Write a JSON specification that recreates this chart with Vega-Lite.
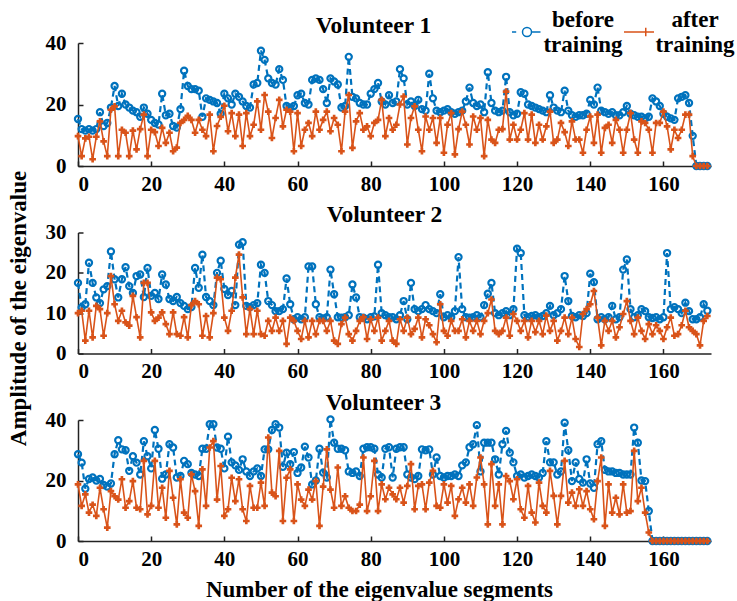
{
"$schema": "https://vega.github.io/schema/vega-lite/v6.json",
"padding": {"left": 7, "top": 13, "right": 5, "bottom": 5},
"spacing": 66.5,
"bounds": "flush",
"config": {
 "font": "Liberation Serif",
 "view": {"stroke": null},
 "axis": {"labelFont": "Liberation Serif", "labelFontSize": 21, "labelFontWeight": "bold", "labelColor": "black",
  "titleFont": "Liberation Serif", "titleFontSize": 23, "titleFontWeight": "bold", "titleColor": "black",
  "domainColor": "#222", "domainWidth": 1.5, "tickColor": "#222", "tickWidth": 1.5, "tickSize": -5, "grid": false},
 "axisX": {"labelPadding": 12, "titlePadding": 9},
 "axisY": {"labelPadding": 17, "titlePadding": 15},
 "title": {"font": "Liberation Serif", "fontSize": 23.5, "fontWeight": "bold", "color": "black", "offset": -5}
},
"resolve": {"scale": {"color": "shared"}, "legend": {"color": "shared"}},
"datasets": {
 "v1": [
{"x":0,"before":15.3,"after":9.7},{"x":1,"before":12,"after":3.2},{"x":2,"before":11.5,"after":9},{"x":3,"before":12,"after":9.5},{"x":4,"before":11.5,"after":2.2},{"x":5,"before":12,"after":9.5},{"x":6,"before":17.5,"after":14.5},{"x":7,"before":13,"after":8},{"x":8,"before":14,"after":3.2},{"x":9,"before":19,"after":18.3},
{"x":10,"before":26,"after":19.4},{"x":11,"before":19.5,"after":3.2},{"x":12,"before":23.5,"after":11.8},{"x":13,"before":20,"after":10.8},{"x":14,"before":19,"after":3.2},{"x":15,"before":18,"after":11.5},{"x":16,"before":17.5,"after":5.4},{"x":17,"before":16,"after":12},{"x":18,"before":19,"after":16.7},{"x":19,"before":17,"after":3.2},
{"x":20,"before":15,"after":11.8},{"x":21,"before":14,"after":11},{"x":22,"before":13.5,"after":6.5},{"x":23,"before":23.5,"after":12.4},{"x":24,"before":16.5,"after":7.5},{"x":25,"before":17,"after":10.8},{"x":26,"before":13,"after":4.8},{"x":27,"before":12.5,"after":6},{"x":28,"before":18.5,"after":14},{"x":29,"before":31,"after":15},
{"x":30,"before":26,"after":16.3},{"x":31,"before":25,"after":15},{"x":32,"before":25,"after":10.8},{"x":33,"before":24.5,"after":15},{"x":34,"before":16,"after":11.8},{"x":35,"before":22,"after":9.7},{"x":36,"before":21.5,"after":16.7},{"x":37,"before":21,"after":4.8},{"x":38,"before":20.5,"after":13},{"x":39,"before":17,"after":16},
{"x":40,"before":23.5,"after":19.6},{"x":41,"before":22,"after":11.3},{"x":42,"before":20,"after":17.2},{"x":43,"before":23.5,"after":9.7},{"x":44,"before":22.5,"after":16.7},{"x":45,"before":21,"after":6.5},{"x":46,"before":19.5,"after":17.2},{"x":47,"before":19,"after":9.7},{"x":48,"before":26.5,"after":13.4},{"x":49,"before":27,"after":21},
{"x":50,"before":37.5,"after":11.8},{"x":51,"before":34.5,"after":23.1},{"x":52,"before":28.5,"after":17.7},{"x":53,"before":27,"after":9.1},{"x":54,"before":26.5,"after":15.6},{"x":55,"before":31.5,"after":21.5},{"x":56,"before":28,"after":12.9},{"x":57,"before":19.5,"after":18.3},{"x":58,"before":19,"after":17.7},{"x":59,"before":19.5,"after":4.8},
{"x":60,"before":23,"after":17.2},{"x":61,"before":23.5,"after":6.5},{"x":62,"before":20.5,"after":11.8},{"x":63,"before":20,"after":14},{"x":64,"before":28,"after":9.7},{"x":65,"before":28.5,"after":17.7},{"x":66,"before":28,"after":11.8},{"x":67,"before":25,"after":15},{"x":68,"before":20.5,"after":17.7},{"x":69,"before":28.5,"after":11.3},
{"x":70,"before":27.5,"after":15.6},{"x":71,"before":26.5,"after":13.4},{"x":72,"before":19,"after":4.8},{"x":73,"before":19.5,"after":17.7},{"x":74,"before":35.5,"after":23.1},{"x":75,"before":22.5,"after":5.9},{"x":76,"before":22,"after":14.5},{"x":77,"before":20.5,"after":17.2},{"x":78,"before":20,"after":11.8},{"x":79,"before":20,"after":12.9},
{"x":80,"before":23.5,"after":9.7},{"x":81,"before":25,"after":14},{"x":82,"before":27,"after":15},{"x":83,"before":21,"after":21.5},{"x":84,"before":20,"after":9.7},{"x":85,"before":23,"after":15.6},{"x":86,"before":20.5,"after":11.8},{"x":87,"before":21,"after":13.4},{"x":88,"before":31.5,"after":20},{"x":89,"before":28.5,"after":22.6},
{"x":90,"before":20,"after":7},{"x":91,"before":21,"after":15.6},{"x":92,"before":19.5,"after":19.4},{"x":93,"before":21.5,"after":11.8},{"x":94,"before":18.5,"after":4.8},{"x":95,"before":18,"after":16.1},{"x":96,"before":30,"after":11.8},{"x":97,"before":22,"after":15.6},{"x":98,"before":18,"after":7.5},{"x":99,"before":17.5,"after":15.6},
{"x":100,"before":18,"after":4.3},{"x":101,"before":18.5,"after":13.4},{"x":102,"before":17.5,"after":17.2},{"x":103,"before":17,"after":3.8},{"x":104,"before":17.5,"after":12},{"x":105,"before":18,"after":17.7},{"x":106,"before":21,"after":13.4},{"x":107,"before":25.5,"after":7},{"x":108,"before":20.5,"after":16.1},{"x":109,"before":19.5,"after":11.8},
{"x":110,"before":20,"after":15.6},{"x":111,"before":17.5,"after":3.2},{"x":112,"before":30.5,"after":15},{"x":113,"before":20.5,"after":8.6},{"x":114,"before":18,"after":7.5},{"x":115,"before":17.5,"after":11.8},{"x":116,"before":18,"after":12},{"x":117,"before":29,"after":24.2},{"x":118,"before":17.5,"after":8.6},{"x":119,"before":16.5,"after":13.4},
{"x":120,"before":17,"after":8.6},{"x":121,"before":24,"after":11.8},{"x":122,"before":23.5,"after":17.2},{"x":123,"before":20,"after":8.6},{"x":124,"before":19.5,"after":16.7},{"x":125,"before":19,"after":7.5},{"x":126,"before":18.5,"after":13.4},{"x":127,"before":18,"after":8.6},{"x":128,"before":17.5,"after":12.9},{"x":129,"before":23,"after":17.7},
{"x":130,"before":19,"after":7.5},{"x":131,"before":18,"after":8.6},{"x":132,"before":17.5,"after":14},{"x":133,"before":24.5,"after":11},{"x":134,"before":18,"after":6.5},{"x":135,"before":16.5,"after":14.5},{"x":136,"before":16,"after":8.6},{"x":137,"before":16.5,"after":8.6},{"x":138,"before":16.5,"after":4.3},{"x":139,"before":17,"after":11.8},
{"x":140,"before":21.5,"after":16.1},{"x":141,"before":20,"after":7.5},{"x":142,"before":25.5,"after":16.7},{"x":143,"before":18,"after":4.3},{"x":144,"before":17.5,"after":12.4},{"x":145,"before":17,"after":13.4},{"x":146,"before":17.5,"after":7.5},{"x":147,"before":16.5,"after":15},{"x":148,"before":16.5,"after":11.8},{"x":149,"before":17.5,"after":4.3},
{"x":150,"before":19.5,"after":11.8},{"x":151,"before":17,"after":17.2},{"x":152,"before":16.5,"after":8.6},{"x":153,"before":16,"after":4.3},{"x":154,"before":16,"after":14.5},{"x":155,"before":15.5,"after":14},{"x":156,"before":16,"after":11.8},{"x":157,"before":22,"after":4.3},{"x":158,"before":21,"after":14},{"x":159,"before":19.5,"after":14},
{"x":160,"before":17,"after":17.7},{"x":161,"before":16,"after":12.9},{"x":162,"before":15.5,"after":5.4},{"x":163,"before":15,"after":11.8},{"x":164,"before":22,"after":9.1},{"x":165,"before":22.5,"after":11.8},{"x":166,"before":23,"after":16.7},{"x":167,"before":20.5,"after":16.7},{"x":168,"before":9.8,"after":3.2},{"x":169,"before":0,"after":0},
{"x":170,"before":0,"after":0},{"x":171,"before":0,"after":0},{"x":172,"before":0,"after":0}
 ],
 "v2": [
{"x":0,"before":17.5,"after":10},{"x":1,"before":11.4,"after":10.6},{"x":2,"before":12.2,"after":3.2},{"x":3,"before":22.5,"after":10.6},{"x":4,"before":17.5,"after":4},{"x":5,"before":13.9,"after":11.8},{"x":6,"before":12.5,"after":11},{"x":7,"before":15.9,"after":4.4},{"x":8,"before":16.7,"after":10},{"x":9,"before":25.3,"after":19.2},
{"x":10,"before":18.4,"after":12.2},{"x":11,"before":13.9,"after":8.1},{"x":12,"before":18.4,"after":10.6},{"x":13,"before":21.4,"after":7.7},{"x":14,"before":16.7,"after":6.9},{"x":15,"before":15,"after":14.3},{"x":16,"before":19.2,"after":9},{"x":17,"before":19.6,"after":4},{"x":18,"before":14,"after":17.5},{"x":19,"before":21.2,"after":17.5},
{"x":20,"before":14.3,"after":10.2},{"x":21,"before":15,"after":8.1},{"x":22,"before":13.5,"after":8.9},{"x":23,"before":19.6,"after":10.2},{"x":24,"before":17.1,"after":7.3},{"x":25,"before":13.5,"after":4.8},{"x":26,"before":13,"after":10.2},{"x":27,"before":14,"after":4.8},{"x":28,"before":12.5,"after":4.4},{"x":29,"before":11.8,"after":9},
{"x":30,"before":11,"after":4},{"x":31,"before":11.5,"after":12},{"x":32,"before":21.2,"after":13},{"x":33,"before":16.3,"after":12.2},{"x":34,"before":24.5,"after":4.4},{"x":35,"before":14,"after":9.3},{"x":36,"before":13,"after":4},{"x":37,"before":12,"after":10},{"x":38,"before":20,"after":18.8},{"x":39,"before":23,"after":18.4},
{"x":40,"before":16,"after":8.9},{"x":41,"before":14.5,"after":5.6},{"x":42,"before":15.5,"after":10.6},{"x":43,"before":12,"after":18.8},{"x":44,"before":27,"after":24.5},{"x":45,"before":27.6,"after":13.9},{"x":46,"before":11.8,"after":4.8},{"x":47,"before":11.5,"after":11},{"x":48,"before":12,"after":4.8},{"x":49,"before":12.5,"after":10.6},
{"x":50,"before":22,"after":4.8},{"x":51,"before":20,"after":4.4},{"x":52,"before":13,"after":8.1},{"x":53,"before":12,"after":5.6},{"x":54,"before":10.5,"after":8.9},{"x":55,"before":10.5,"after":5.6},{"x":56,"before":11,"after":8.1},{"x":57,"before":18.6,"after":2.4},{"x":58,"before":12.2,"after":8.9},{"x":59,"before":8.5,"after":8.1},
{"x":60,"before":9,"after":5.6},{"x":61,"before":8.5,"after":3.6},{"x":62,"before":9,"after":8.1},{"x":63,"before":21.6,"after":4},{"x":64,"before":21.6,"after":8.1},{"x":65,"before":12.2,"after":4.8},{"x":66,"before":9,"after":8.1},{"x":67,"before":8.7,"after":8.1},{"x":68,"before":9,"after":5.6},{"x":69,"before":20.8,"after":8.1},
{"x":70,"before":14.7,"after":3.2},{"x":71,"before":9,"after":2.4},{"x":72,"before":8.9,"after":7.3},{"x":73,"before":9,"after":8.9},{"x":74,"before":9.5,"after":4.8},{"x":75,"before":17.1,"after":3.2},{"x":76,"before":13.9,"after":5.6},{"x":77,"before":9,"after":8.1},{"x":78,"before":8.9,"after":9},{"x":79,"before":8.5,"after":3.6},
{"x":80,"before":9,"after":8.5},{"x":81,"before":9.2,"after":5.6},{"x":82,"before":22,"after":8.9},{"x":83,"before":10,"after":3.2},{"x":84,"before":9.5,"after":5.6},{"x":85,"before":9,"after":8.1},{"x":86,"before":9,"after":3.2},{"x":87,"before":8.5,"after":2.4},{"x":88,"before":9.5,"after":8.5},{"x":89,"before":13,"after":5.6},
{"x":90,"before":8.5,"after":8.9},{"x":91,"before":17.5,"after":4.8},{"x":92,"before":11,"after":6.1},{"x":93,"before":10.5,"after":8.9},{"x":94,"before":11,"after":4},{"x":95,"before":12,"after":8.5},{"x":96,"before":11,"after":7},{"x":97,"before":10.5,"after":4.8},{"x":98,"before":10,"after":2.8},{"x":99,"before":14.7,"after":12.2},
{"x":100,"before":9,"after":5.6},{"x":101,"before":9.5,"after":4.4},{"x":102,"before":9,"after":8.1},{"x":103,"before":10.5,"after":5.6},{"x":104,"before":23.9,"after":5.6},{"x":105,"before":11,"after":8.5},{"x":106,"before":9,"after":4},{"x":107,"before":8.9,"after":8.1},{"x":108,"before":9,"after":5.6},{"x":109,"before":9.5,"after":8.1},
{"x":110,"before":9,"after":4.8},{"x":111,"before":12,"after":8.1},{"x":112,"before":14.8,"after":10},{"x":113,"before":17.5,"after":13.4},{"x":114,"before":10,"after":5.6},{"x":115,"before":9.5,"after":4.8},{"x":116,"before":10,"after":5.6},{"x":117,"before":10.5,"after":8.9},{"x":118,"before":9.5,"after":4.4},{"x":119,"before":11,"after":9.8},
{"x":120,"before":26,"after":8.1},{"x":121,"before":24.9,"after":5.6},{"x":122,"before":9.5,"after":8.1},{"x":123,"before":9,"after":4},{"x":124,"before":9.3,"after":8.1},{"x":125,"before":9.5,"after":5.3},{"x":126,"before":9,"after":8.1},{"x":127,"before":9.3,"after":4.8},{"x":128,"before":10,"after":9.4},{"x":129,"before":11.8,"after":5.6},
{"x":130,"before":9.5,"after":8.1},{"x":131,"before":10,"after":3.2},{"x":132,"before":11,"after":5.6},{"x":133,"before":19.2,"after":8.9},{"x":134,"before":13,"after":4.8},{"x":135,"before":9.3,"after":8.9},{"x":136,"before":9,"after":3.6},{"x":137,"before":9.5,"after":1.6},{"x":138,"before":9.3,"after":9.8},{"x":139,"before":10,"after":11},
{"x":140,"before":19.8,"after":12.2},{"x":141,"before":17.7,"after":15.5},{"x":142,"before":8.5,"after":8.9},{"x":143,"before":9,"after":2},{"x":144,"before":8.5,"after":8.1},{"x":145,"before":9,"after":5.6},{"x":146,"before":11.8,"after":8.1},{"x":147,"before":8.5,"after":4},{"x":148,"before":9,"after":6.5},{"x":149,"before":20.8,"after":9.8},
{"x":150,"before":23.3,"after":13},{"x":151,"before":11,"after":8.1},{"x":152,"before":9,"after":4.8},{"x":153,"before":9.5,"after":8.9},{"x":154,"before":11,"after":5.6},{"x":155,"before":10.5,"after":3.6},{"x":156,"before":9,"after":7.3},{"x":157,"before":8.8,"after":4.8},{"x":158,"before":9,"after":7},{"x":159,"before":8.5,"after":5.6},
{"x":160,"before":9,"after":3.6},{"x":161,"before":24.9,"after":6.5},{"x":162,"before":11,"after":8.9},{"x":163,"before":11.5,"after":4.4},{"x":164,"before":11,"after":4.8},{"x":165,"before":10,"after":7},{"x":166,"before":12.6,"after":10.6},{"x":167,"before":10.5,"after":6.5},{"x":168,"before":8.5,"after":5.6},{"x":169,"before":8.5,"after":4.8},
{"x":170,"before":9,"after":2},{"x":171,"before":12.2,"after":8.1},{"x":172,"before":10.6,"after":9.3}
 ],
 "v3": [
{"x":0,"before":28.7,"after":18.7},{"x":1,"before":25.9,"after":11.6},{"x":2,"before":17.3,"after":15.4},{"x":3,"before":20.5,"after":9.4},{"x":4,"before":21,"after":12},{"x":5,"before":20,"after":8.3},{"x":6,"before":20.5,"after":17.6},{"x":7,"before":18.5,"after":10.5},{"x":8,"before":18,"after":4.4},{"x":9,"before":19,"after":16.5},
{"x":10,"before":28.7,"after":14.8},{"x":11,"before":33.3,"after":13.7},{"x":12,"before":30.3,"after":20.4},{"x":13,"before":30,"after":11},{"x":14,"before":23.2,"after":13.2},{"x":15,"before":28,"after":19.8},{"x":16,"before":25.9,"after":11},{"x":17,"before":22,"after":10.5},{"x":18,"before":33,"after":26.5},{"x":19,"before":28,"after":8.8},
{"x":20,"before":24,"after":11.6},{"x":21,"before":36.7,"after":26.5},{"x":22,"before":30.5,"after":11},{"x":23,"before":20.6,"after":17.6},{"x":24,"before":22,"after":7.7},{"x":25,"before":32,"after":23.2},{"x":26,"before":30.9,"after":14.3},{"x":27,"before":21,"after":5.5},{"x":28,"before":21.5,"after":20.4},{"x":29,"before":26.5,"after":9.4},
{"x":30,"before":25.4,"after":7.7},{"x":31,"before":22.5,"after":22},{"x":32,"before":22,"after":16.5},{"x":33,"before":21.5,"after":5},{"x":34,"before":30.5,"after":23.7},{"x":35,"before":30.5,"after":11.6},{"x":36,"before":38.6,"after":30.9},{"x":37,"before":38.6,"after":33},{"x":38,"before":30.9,"after":13.7},{"x":39,"before":30.5,"after":24.8},
{"x":40,"before":24,"after":8.3},{"x":41,"before":34.5,"after":10.5},{"x":42,"before":26,"after":20.9},{"x":43,"before":25,"after":13.2},{"x":44,"before":23.5,"after":20.4},{"x":45,"before":27,"after":10.5},{"x":46,"before":23,"after":6.6},{"x":47,"before":21.5,"after":18.2},{"x":48,"before":23,"after":11},{"x":49,"before":24,"after":11},
{"x":50,"before":21.5,"after":19.3},{"x":51,"before":30.3,"after":11.6},{"x":52,"before":30.3,"after":34.2},{"x":53,"before":36.7,"after":16},{"x":54,"before":38.6,"after":14.8},{"x":55,"before":37.5,"after":29.8},{"x":56,"before":24.5,"after":6.6},{"x":57,"before":29.2,"after":20.9},{"x":58,"before":25.4,"after":23.7},{"x":59,"before":29.4,"after":6.6},
{"x":60,"before":22.5,"after":18.7},{"x":61,"before":24.3,"after":13.7},{"x":62,"before":31.2,"after":11.6},{"x":63,"before":27.6,"after":17},{"x":64,"before":18.7,"after":13.7},{"x":65,"before":20,"after":19.8},{"x":66,"before":30.5,"after":5},{"x":67,"before":22.6,"after":18},{"x":68,"before":21,"after":30.3},{"x":69,"before":40.2,"after":17},
{"x":70,"before":32.5,"after":11},{"x":71,"before":30.5,"after":24.3},{"x":72,"before":30.5,"after":11.6},{"x":73,"before":30,"after":14.8},{"x":74,"before":23,"after":11},{"x":75,"before":22.5,"after":9.9},{"x":76,"before":23,"after":9.9},{"x":77,"before":21.5,"after":12},{"x":78,"before":30.5,"after":27.6},{"x":79,"before":31,"after":9.9},
{"x":80,"before":31,"after":14.8},{"x":81,"before":30.5,"after":26.5},{"x":82,"before":22,"after":9.9},{"x":83,"before":21,"after":18.7},{"x":84,"before":30.5,"after":13.8},{"x":85,"before":31,"after":17.6},{"x":86,"before":21,"after":15.4},{"x":87,"before":30.5,"after":13.8},{"x":88,"before":31,"after":17.6},{"x":89,"before":31,"after":12.7},
{"x":90,"before":22,"after":18.2},{"x":91,"before":21,"after":25.4},{"x":92,"before":20.5,"after":10.5},{"x":93,"before":21.5,"after":18.2},{"x":94,"before":30.3,"after":18.7},{"x":95,"before":30,"after":10.5},{"x":96,"before":30.3,"after":19.3},{"x":97,"before":22,"after":23.2},{"x":98,"before":27.6,"after":11.6},{"x":99,"before":21.5,"after":11},
{"x":100,"before":21,"after":18.7},{"x":101,"before":21.5,"after":12.7},{"x":102,"before":21.5,"after":18.2},{"x":103,"before":22,"after":8.3},{"x":104,"before":21.5,"after":13.8},{"x":105,"before":25,"after":17.6},{"x":106,"before":26,"after":12.7},{"x":107,"before":31,"after":18.7},{"x":108,"before":32,"after":11.6},{"x":109,"before":38.3,"after":21},
{"x":110,"before":23,"after":27.6},{"x":111,"before":32.5,"after":18.7},{"x":112,"before":32.5,"after":5.5},{"x":113,"before":32.5,"after":25.4},{"x":114,"before":27,"after":11.6},{"x":115,"before":22,"after":18.7},{"x":116,"before":32,"after":5.5},{"x":117,"before":36.4,"after":21.5},{"x":118,"before":29.2,"after":19.8},{"x":119,"before":26,"after":13.8},
{"x":120,"before":21.5,"after":20.4},{"x":121,"before":22,"after":10.5},{"x":122,"before":21,"after":7.7},{"x":123,"before":21.5,"after":18.2},{"x":124,"before":22,"after":9.4},{"x":125,"before":21.5,"after":6.1},{"x":126,"before":21,"after":19.3},{"x":127,"before":22.5,"after":11.6},{"x":128,"before":33,"after":9.4},{"x":129,"before":26,"after":23.2},
{"x":130,"before":26,"after":14.9},{"x":131,"before":22,"after":5.5},{"x":132,"before":23,"after":14.9},{"x":133,"before":39.1,"after":26.5},{"x":134,"before":30,"after":12.7},{"x":135,"before":19.8,"after":16},{"x":136,"before":26,"after":11.6},{"x":137,"before":20.5,"after":17.1},{"x":138,"before":19.3,"after":11.6},{"x":139,"before":27,"after":16.5},
{"x":140,"before":19,"after":10.5},{"x":141,"before":17.6,"after":7.2},{"x":142,"before":32,"after":19.8},{"x":143,"before":33,"after":27.6},{"x":144,"before":23.5,"after":5},{"x":145,"before":23,"after":18.7},{"x":146,"before":23,"after":9.4},{"x":147,"before":22.5,"after":14.3},{"x":148,"before":22.5,"after":8.8},{"x":149,"before":22,"after":18.7},
{"x":150,"before":22,"after":9.4},{"x":151,"before":22,"after":9.9},{"x":152,"before":37.5,"after":29.8},{"x":153,"before":32.5,"after":13.2},{"x":154,"before":20,"after":17.6},{"x":155,"before":19.8,"after":9.4},{"x":156,"before":9.9,"after":2.8},{"x":157,"before":0,"after":0},{"x":158,"before":0,"after":0},{"x":159,"before":0,"after":0},
{"x":160,"before":0,"after":0},{"x":161,"before":0,"after":0},{"x":162,"before":0,"after":0},{"x":163,"before":0,"after":0},{"x":164,"before":0,"after":0},{"x":165,"before":0,"after":0},{"x":166,"before":0,"after":0},{"x":167,"before":0,"after":0},{"x":168,"before":0,"after":0},{"x":169,"before":0,"after":0},
{"x":170,"before":0,"after":0},{"x":171,"before":0,"after":0},{"x":172,"before":0,"after":0}
 ]
},
"vconcat": [
 {
  "width": 633, "height": 123,
  "data": {"name": "v1"},
  "transform": [{"fold": ["before", "after"], "as": ["series", "y"]}],
  "title": {"text": "Volunteer 1", "dx": -21},
  "encoding": {
   "x": {"field": "x", "type": "quantitative", "scale": {"domain": [0, 173], "nice": false}, "axis": {"values": [0,20,40,60,80,100,120,140,160], "title": null}},
   "y": {"field": "y", "type": "quantitative", "scale": {"domain": [0, 40], "nice": false}, "axis": {"values": [0,20,40], "title": "Amplitude of the eigenvalue", "titleY": 265}},
   "color": {"field": "series", "type": "nominal", "scale": {"domain": ["before", "after"], "range": ["#0072BD", "#D95319"]},
    "legend": {
     "orient": "none", "legendX": 433, "legendY": -27, "direction": "horizontal", "title": null,
     "labelExpr": "datum.value === 'before' ? 'before\\ntraining' : 'after\\ntraining'",
     "labelFont": "Liberation Serif", "labelFontSize": 23, "labelFontWeight": "bold", "labelColor": "black",
     "labelAlign": "center", "labelOffset": 40, "symbolSize": 900, "columnPadding": -26, "labelLimit": 300,
     "encode": {
      "symbols": {"update": {
       "shape": {"signal": "datum.value === 'before' ? 'M-1,0H-0.72M-0.3,0A0.3,0.3 0 1,1 0.3,0A0.3,0.3 0 1,1 -0.3,0ZM-0.3,0A0.3,0.3 0 1,0 0.3,0A0.3,0.3 0 1,0 -0.3,0ZM0.3,0H0.9' : 'M-1,0H1M0.45,-0.28V0.28M0.45,0.28V-0.28'"}
      }},
      "labels": {"update": {"lineBreak": {"value": "\n"}, "lineHeight": {"value": 25}, "dy": {"value": -12}}}
     }
    }
   }
  },
  "layer": [
   {"transform": [{"filter": "datum.series === 'before'"}], "mark": {"type": "line", "strokeWidth": 2.2, "strokeDash": [6, 4]}},
   {"transform": [{"filter": "datum.series === 'before'"}], "mark": {"type": "point", "filled": false, "strokeWidth": 2.2, "size": 38, "opacity": 1}},
   {"transform": [{"filter": "datum.series === 'after'"}], "mark": {"type": "line", "strokeWidth": 1.6}},
   {"transform": [{"filter": "datum.series === 'after'"}], "mark": {"type": "point", "shape": "cross", "filled": true, "size": 44, "opacity": 1}}
  ]
 },
 {
  "width": 633, "height": 121,
  "data": {"name": "v2"},
  "transform": [{"fold": ["before", "after"], "as": ["series", "y"]}],
  "title": {"text": "Volunteer 2", "dx": -10},
  "encoding": {
   "x": {"field": "x", "type": "quantitative", "scale": {"domain": [0, 173], "nice": false}, "axis": {"values": [0,20,40,60,80,100,120,140,160], "title": null}},
   "y": {"field": "y", "type": "quantitative", "scale": {"domain": [0, 30], "nice": false}, "axis": {"values": [0,10,20,30], "title": null}},
   "color": {"field": "series", "type": "nominal", "scale": {"domain": ["before", "after"], "range": ["#0072BD", "#D95319"]}, "legend": null}
  },
  "layer": [
   {"transform": [{"filter": "datum.series === 'before'"}], "mark": {"type": "line", "strokeWidth": 2.2, "strokeDash": [6, 4]}},
   {"transform": [{"filter": "datum.series === 'before'"}], "mark": {"type": "point", "filled": false, "strokeWidth": 2.2, "size": 38, "opacity": 1}},
   {"transform": [{"filter": "datum.series === 'after'"}], "mark": {"type": "line", "strokeWidth": 1.6}},
   {"transform": [{"filter": "datum.series === 'after'"}], "mark": {"type": "point", "shape": "cross", "filled": true, "size": 44, "opacity": 1}}
  ]
 },
 {
  "width": 633, "height": 121,
  "data": {"name": "v3"},
  "transform": [{"fold": ["before", "after"], "as": ["series", "y"]}],
  "title": {"text": "Volunteer 3", "dx": -11},
  "encoding": {
   "x": {"field": "x", "type": "quantitative", "scale": {"domain": [0, 173], "nice": false}, "axis": {"values": [0,20,40,60,80,100,120,140,160], "title": "Number of the eigenvalue segments", "titleX": 301}},
   "y": {"field": "y", "type": "quantitative", "scale": {"domain": [0, 40], "nice": false}, "axis": {"values": [0,20,40], "title": null}},
   "color": {"field": "series", "type": "nominal", "scale": {"domain": ["before", "after"], "range": ["#0072BD", "#D95319"]}, "legend": null}
  },
  "layer": [
   {"transform": [{"filter": "datum.series === 'before'"}], "mark": {"type": "line", "strokeWidth": 2.2, "strokeDash": [6, 4]}},
   {"transform": [{"filter": "datum.series === 'before'"}], "mark": {"type": "point", "filled": false, "strokeWidth": 2.2, "size": 38, "opacity": 1}},
   {"transform": [{"filter": "datum.series === 'after'"}], "mark": {"type": "line", "strokeWidth": 1.6}},
   {"transform": [{"filter": "datum.series === 'after'"}], "mark": {"type": "point", "shape": "cross", "filled": true, "size": 44, "opacity": 1}}
  ]
 }
]
}
